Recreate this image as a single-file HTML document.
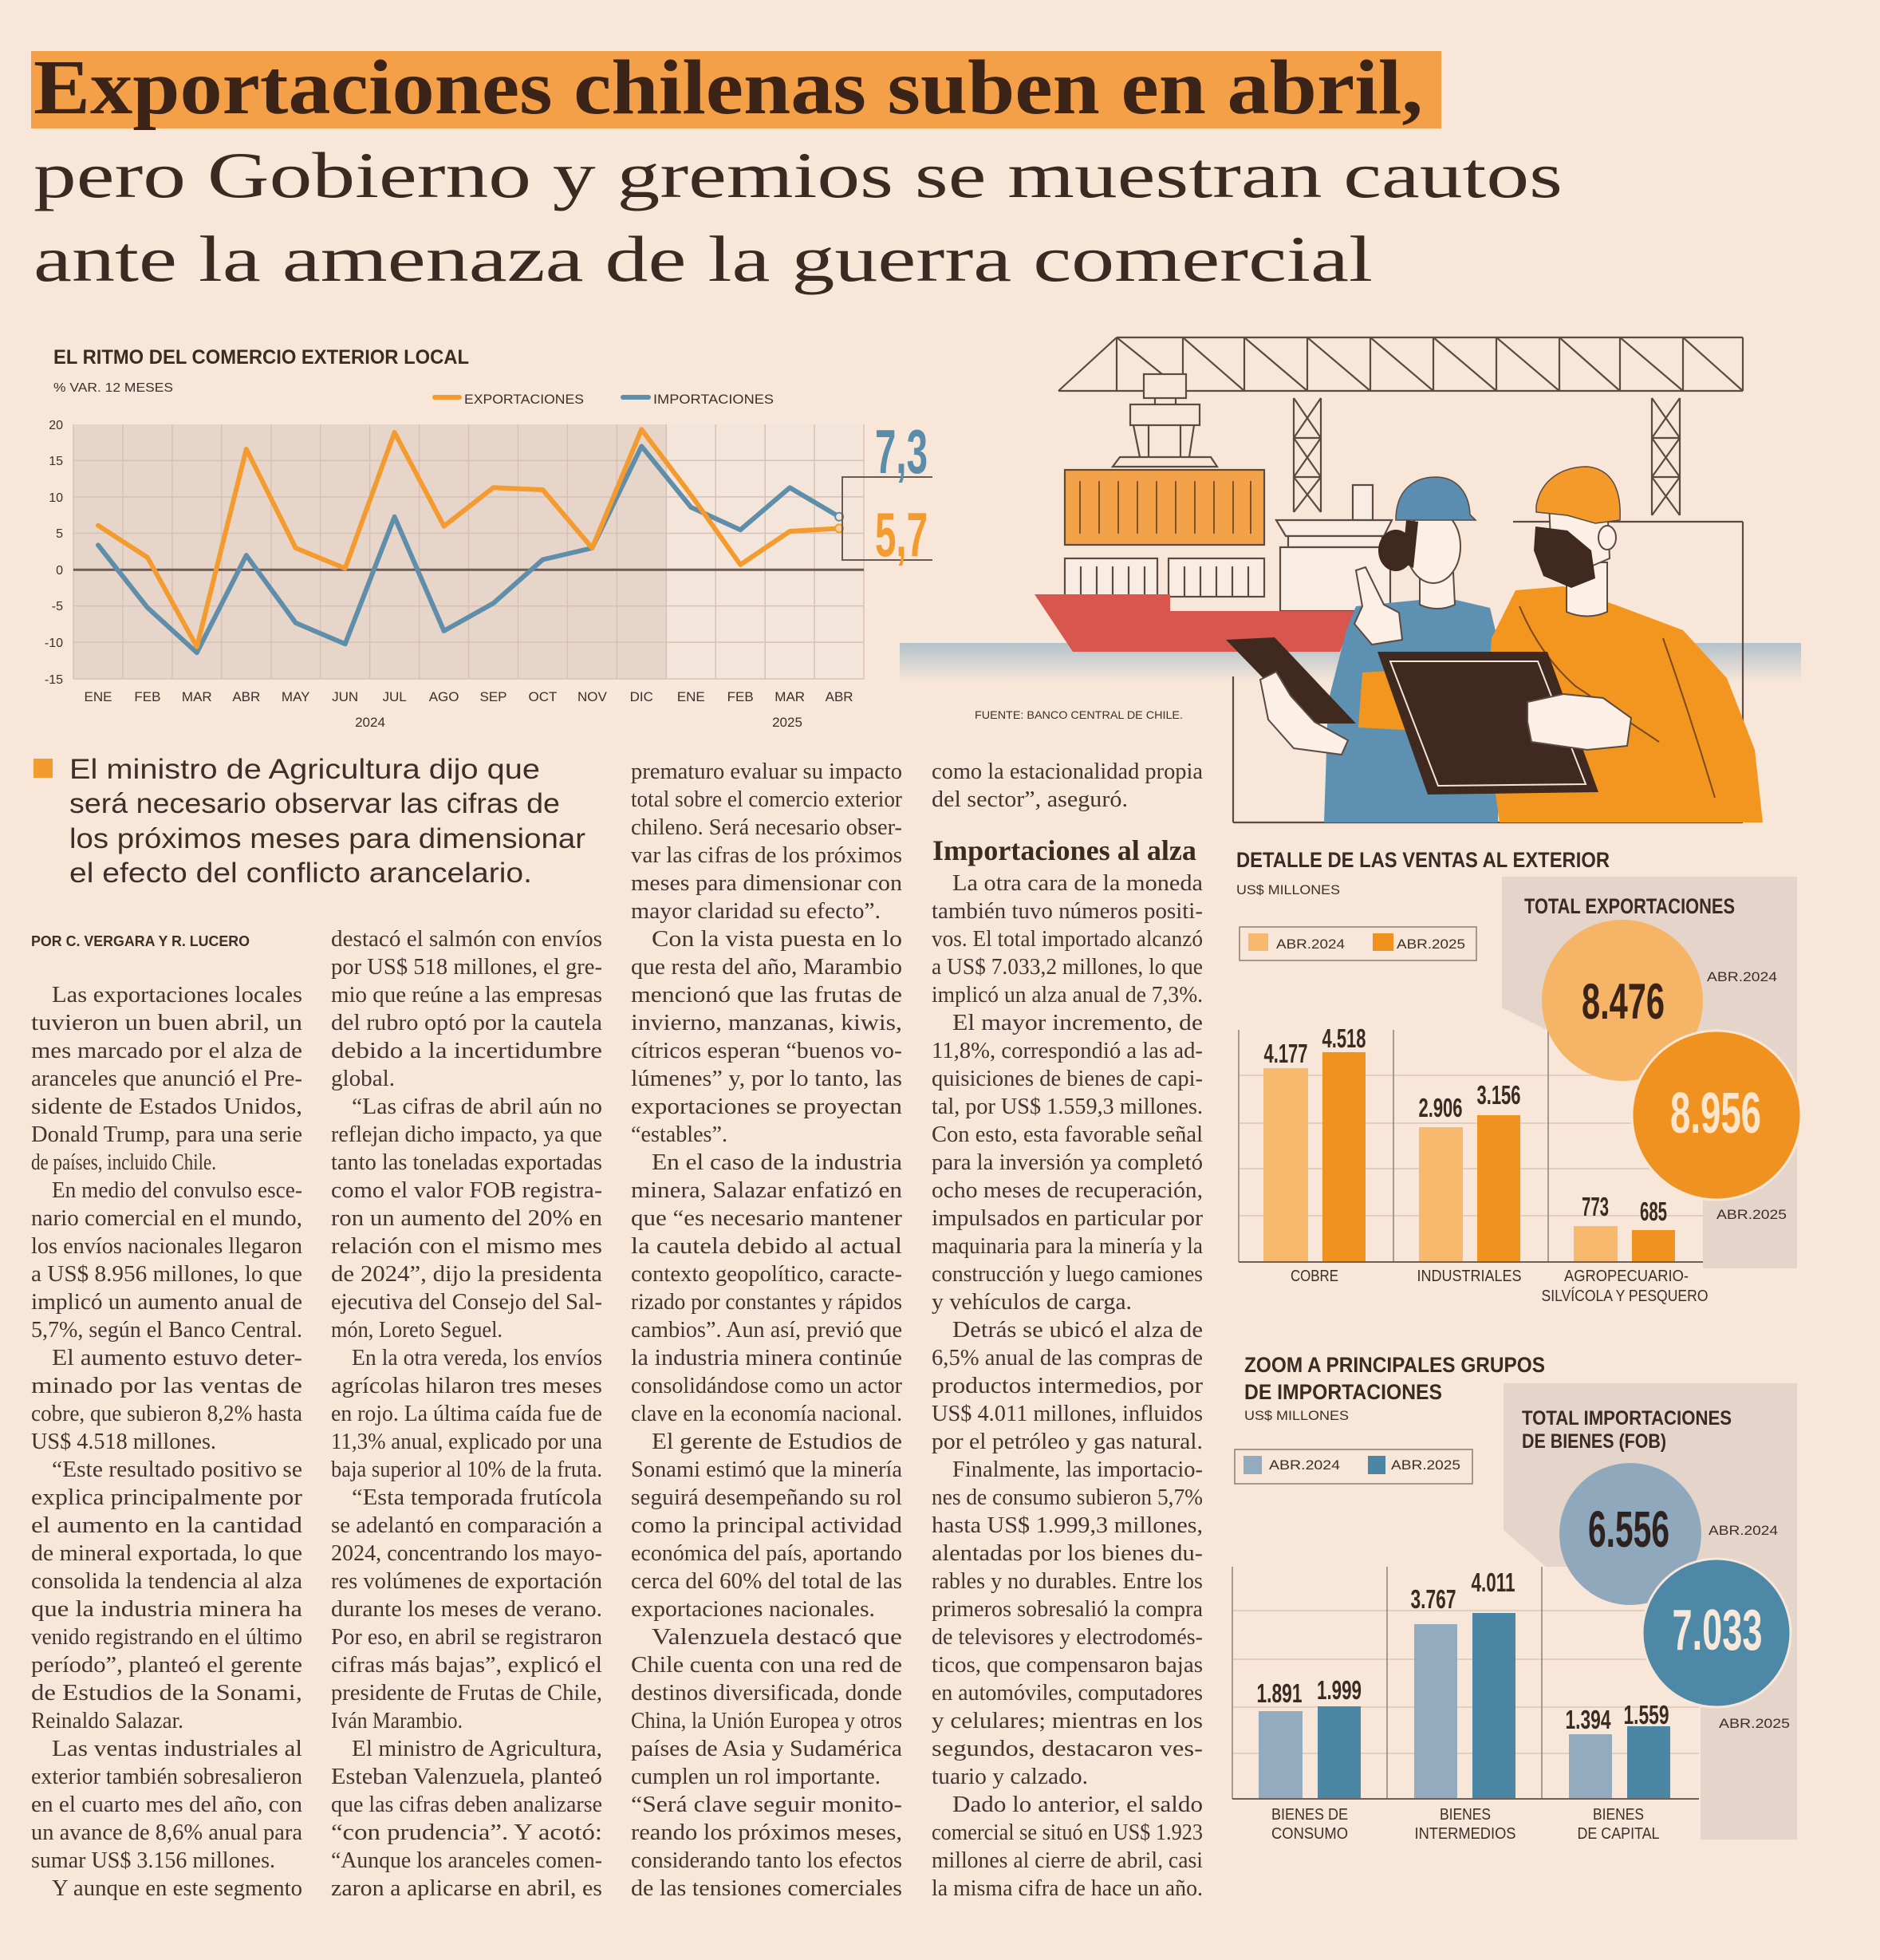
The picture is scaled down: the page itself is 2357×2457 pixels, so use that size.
<!DOCTYPE html>
<html><head><meta charset="utf-8"><title>Exportaciones chilenas</title>
<style>
html,body{margin:0;padding:0;background:#f8e6d9;}
svg{display:block}
.t{font-family:"Liberation Serif",serif;font-size:29px;fill:#42352f}
.c{font-family:"Liberation Sans Narrow","Liberation Sans",sans-serif;fill:#3d2f29}
.cb{font-family:"Liberation Sans Narrow","Liberation Sans",sans-serif;font-weight:bold;fill:#3a2a22}
.ln{stroke:#5a4a42;stroke-width:2.2;fill:none}
</style></head><body>
<svg width="2357" height="2457" viewBox="0 0 2357 2457" xmlns="http://www.w3.org/2000/svg">
<defs>
<linearGradient id="wat" x1="0" y1="0" x2="0" y2="1"><stop offset="0" stop-color="#b3c2cb"/><stop offset="1" stop-color="#f8e6d9"/></linearGradient>
</defs>
<rect x="0" y="0" width="2357" height="2457" fill="#f8e6d9"/>

<!-- TITLE -->
<rect x="39" y="64" width="1768" height="97" fill="#f4a049"/>
<text x="42" y="142" font-family="Liberation Serif,serif" font-weight="bold" font-size="98" fill="#3b2417" textLength="1742" lengthAdjust="spacingAndGlyphs">Exportaciones chilenas suben en abril,</text>
<text x="42" y="247" font-family="Liberation Serif,serif" font-size="82" fill="#3b2a22" textLength="1917" lengthAdjust="spacingAndGlyphs">pero Gobierno y gremios se muestran cautos</text>
<text x="42" y="352" font-family="Liberation Serif,serif" font-size="82" fill="#3b2a22" textLength="1679" lengthAdjust="spacingAndGlyphs">ante la amenaza de la guerra comercial</text>

<!-- LINE CHART -->
<text class="cb" x="67" y="456" font-size="25" textLength="521" lengthAdjust="spacingAndGlyphs">EL RITMO DEL COMERCIO EXTERIOR LOCAL</text>
<text class="c" x="67" y="491" font-size="16" textLength="150" lengthAdjust="spacingAndGlyphs">% VAR. 12 MESES</text>
<line x1="545" y1="498" x2="576" y2="498" stroke="#f39b2f" stroke-width="6" stroke-linecap="round"/>
<text class="c" x="582" y="506" font-size="17" textLength="150" lengthAdjust="spacingAndGlyphs">EXPORTACIONES</text>
<line x1="781" y1="498" x2="813" y2="498" stroke="#5e8ea9" stroke-width="6" stroke-linecap="round"/>
<text class="c" x="819" y="506" font-size="17" textLength="151" lengthAdjust="spacingAndGlyphs">IMPORTACIONES</text>

<rect x="92" y="532" width="743.3" height="319" fill="#e8d5c9"/>
<rect x="835.3" y="532" width="247.7" height="319" fill="#f4e5da"/>
<g stroke="#d6c2b5" stroke-width="1.5">
<line x1="92" y1="532" x2="92" y2="851"/><line x1="153.9" y1="532" x2="153.9" y2="851"/><line x1="215.9" y1="532" x2="215.9" y2="851"/><line x1="277.8" y1="532" x2="277.8" y2="851"/><line x1="339.8" y1="532" x2="339.8" y2="851"/><line x1="401.7" y1="532" x2="401.7" y2="851"/><line x1="463.6" y1="532" x2="463.6" y2="851"/><line x1="525.6" y1="532" x2="525.6" y2="851"/><line x1="587.5" y1="532" x2="587.5" y2="851"/><line x1="649.5" y1="532" x2="649.5" y2="851"/><line x1="711.4" y1="532" x2="711.4" y2="851"/><line x1="773.3" y1="532" x2="773.3" y2="851"/><line x1="835.3" y1="532" x2="835.3" y2="851"/><line x1="897.2" y1="532" x2="897.2" y2="851"/><line x1="959.2" y1="532" x2="959.2" y2="851"/><line x1="1021.1" y1="532" x2="1021.1" y2="851"/><line x1="1083" y1="532" x2="1083" y2="851"/>
<line x1="92" y1="577.3" x2="1083" y2="577.3"/><line x1="92" y1="622.9" x2="1083" y2="622.9"/><line x1="92" y1="668.5" x2="1083" y2="668.5"/><line x1="92" y1="759.6" x2="1083" y2="759.6"/><line x1="92" y1="805.1" x2="1083" y2="805.1"/><line x1="92" y1="851" x2="1083" y2="851"/>
</g>
<line x1="92" y1="714.3" x2="1083" y2="714.3" stroke="#6d5d54" stroke-width="3"/>
<g class="c" font-size="16" text-anchor="end">
<text x="79" y="538">20</text><text x="79" y="583">15</text><text x="79" y="629">10</text><text x="79" y="674">5</text><text x="79" y="720">0</text><text x="79" y="765">-5</text><text x="79" y="811">-10</text><text x="79" y="857">-15</text>
</g>
<g class="c" font-size="17" text-anchor="middle">
<text x="123" y="879">ENE</text><text x="184.9" y="879">FEB</text><text x="246.8" y="879">MAR</text><text x="308.8" y="879">ABR</text><text x="370.7" y="879">MAY</text><text x="432.7" y="879">JUN</text><text x="494.6" y="879">JUL</text><text x="556.6" y="879">AGO</text><text x="618.5" y="879">SEP</text><text x="680.5" y="879">OCT</text><text x="742.4" y="879">NOV</text><text x="804.3" y="879">DIC</text><text x="866.3" y="879">ENE</text><text x="928.2" y="879">FEB</text><text x="990.2" y="879">MAR</text><text x="1052.1" y="879">ABR</text>
<text x="464" y="911">2024</text><text x="987" y="911">2025</text>
</g>
<polyline fill="none" stroke="#5e8ea9" stroke-width="6" stroke-linejoin="round" stroke-linecap="round" points="123,683.3 184.9,761.7 246.8,818.2 308.8,696.1 370.7,780.8 432.7,807.3 494.6,647.8 556.6,790.9 618.5,756.2 680.5,701.5 742.4,687 804.3,559.4 866.3,635.9 928.2,664.2 990.2,611.3 1052.1,647.8"/>
<polyline fill="none" stroke="#f39b2f" stroke-width="6" stroke-linejoin="round" stroke-linecap="round" points="123,658.7 184.9,698.8 246.8,810.9 308.8,563 370.7,687 432.7,712.5 494.6,542 556.6,659.6 618.5,611.3 680.5,614 742.4,687 804.3,538.4 866.3,620.4 928.2,707.9 990.2,666 1052.1,662.4"/>
<circle cx="1052.1" cy="647.8" r="5" fill="#f4e5da" stroke="#5e8ea9" stroke-width="2"/>
<circle cx="1052.1" cy="662.4" r="5" fill="#fbd39a" stroke="#f39b2f" stroke-width="2"/>
<polyline points="1169,598 1056,598 1056,702 1169,702" fill="none" stroke="#6b5a52" stroke-width="2"/>
<text class="cb" x="1097" y="593" font-size="78" textLength="66" lengthAdjust="spacingAndGlyphs" style="fill:#5b8dab">7,3</text>
<text class="cb" x="1097" y="697" font-size="78" textLength="66" lengthAdjust="spacingAndGlyphs" style="fill:#f39b2f">5,7</text>

<!-- ILLUSTRATION -->
<rect x="1128" y="806" width="1130" height="50" fill="url(#wat)"/>
<g class="ln" stroke-width="2.5">
<line x1="1400" y1="423" x2="2185" y2="423"/><line x1="1327" y1="490" x2="2185" y2="490"/><line x1="1327" y1="490" x2="1400" y2="423"/>
<line x1="1400" y1="423" x2="1400" y2="490"/><line x1="1483" y1="423" x2="1483" y2="490"/><line x1="1560" y1="423" x2="1560" y2="490"/><line x1="1639" y1="423" x2="1639" y2="490"/><line x1="1718" y1="423" x2="1718" y2="490"/><line x1="1797" y1="423" x2="1797" y2="490"/><line x1="1876" y1="423" x2="1876" y2="490"/><line x1="1955" y1="423" x2="1955" y2="490"/><line x1="2031" y1="423" x2="2031" y2="490"/><line x1="2110" y1="423" x2="2110" y2="490"/><line x1="2185" y1="423" x2="2185" y2="490"/>
<line x1="1400" y1="423" x2="1483" y2="490"/><line x1="1483" y1="423" x2="1560" y2="490"/><line x1="1560" y1="423" x2="1639" y2="490"/><line x1="1639" y1="423" x2="1718" y2="490"/><line x1="1718" y1="423" x2="1797" y2="490"/><line x1="1797" y1="423" x2="1876" y2="490"/><line x1="1876" y1="423" x2="1955" y2="490"/><line x1="1955" y1="423" x2="2031" y2="490"/><line x1="2031" y1="423" x2="2110" y2="490"/><line x1="2110" y1="423" x2="2185" y2="490"/>
</g>
<g class="ln">
<rect x="1434" y="469" width="53" height="30" fill="#f8e6d9"/>
<line x1="1448" y1="499" x2="1448" y2="507"/><line x1="1474" y1="499" x2="1474" y2="507"/>
<rect x="1417" y="507" width="87" height="26" fill="#f8e6d9"/>
<line x1="1421" y1="533" x2="1429" y2="573"/><line x1="1497" y1="533" x2="1491" y2="573"/><line x1="1440" y1="533" x2="1440" y2="573"/><line x1="1480" y1="533" x2="1480" y2="573"/>
<polygon points="1404,573 1518,573 1526,585 1395,585" fill="#f8e6d9"/>
<line x1="1622" y1="499" x2="1622" y2="642"/><line x1="1656" y1="499" x2="1656" y2="642"/><line x1="1622" y1="549" x2="1656" y2="549"/><line x1="1622" y1="598" x2="1656" y2="598"/>
<line x1="1622" y1="499" x2="1656" y2="549"/><line x1="1656" y1="499" x2="1622" y2="549"/><line x1="1622" y1="549" x2="1656" y2="598"/><line x1="1656" y1="549" x2="1622" y2="598"/><line x1="1622" y1="598" x2="1656" y2="642"/><line x1="1656" y1="598" x2="1622" y2="642"/>
<line x1="2071" y1="499" x2="2071" y2="646"/><line x1="2106" y1="499" x2="2106" y2="646"/><line x1="2071" y1="549" x2="2106" y2="549"/><line x1="2071" y1="598" x2="2106" y2="598"/>
<line x1="2071" y1="499" x2="2106" y2="549"/><line x1="2106" y1="499" x2="2071" y2="549"/><line x1="2071" y1="549" x2="2106" y2="598"/><line x1="2106" y1="549" x2="2071" y2="598"/><line x1="2071" y1="598" x2="2106" y2="646"/><line x1="2106" y1="598" x2="2071" y2="646"/>
<rect x="1335" y="589" width="250" height="94" fill="#f3a24a"/>
</g>
<g stroke="#6e4a30" stroke-width="1.8">
<line x1="1354" y1="603" x2="1354" y2="669"/><line x1="1378" y1="603" x2="1378" y2="669"/><line x1="1402" y1="603" x2="1402" y2="669"/><line x1="1426" y1="603" x2="1426" y2="669"/><line x1="1450" y1="603" x2="1450" y2="669"/><line x1="1474" y1="603" x2="1474" y2="669"/><line x1="1498" y1="603" x2="1498" y2="669"/><line x1="1522" y1="603" x2="1522" y2="669"/><line x1="1546" y1="603" x2="1546" y2="669"/><line x1="1568" y1="603" x2="1568" y2="669"/>
</g>
<g class="ln">
<rect x="1335" y="700" width="116" height="48" fill="#f9ece2"/><rect x="1465" y="700" width="120" height="48" fill="#f9ece2"/>
<line x1="1355" y1="710" x2="1355" y2="748"/><line x1="1375" y1="710" x2="1375" y2="748"/><line x1="1395" y1="710" x2="1395" y2="748"/><line x1="1415" y1="710" x2="1415" y2="748"/><line x1="1435" y1="710" x2="1435" y2="748"/>
<line x1="1485" y1="710" x2="1485" y2="748"/><line x1="1505" y1="710" x2="1505" y2="748"/><line x1="1525" y1="710" x2="1525" y2="748"/><line x1="1545" y1="710" x2="1545" y2="748"/><line x1="1565" y1="710" x2="1565" y2="748"/>
<rect x="1696" y="608" width="25" height="44" fill="#f9ece2"/>
<polygon points="1600,652 1745,652 1735,672 1612,672" fill="#f9ece2"/>
<rect x="1615" y="672" width="118" height="14" fill="#f9ece2"/>
<rect x="1605" y="686" width="138" height="80" fill="#f9ece2"/>
</g>
<polygon points="1297,745 1467,745 1467,766 1700,766 1680,817 1345,817" fill="#d9564e"/>
<g class="ln">
<line x1="1897" y1="654" x2="2185" y2="654"/><line x1="2185" y1="654" x2="2185" y2="1031"/><line x1="1546" y1="1031" x2="2185" y2="1031"/><line x1="1546" y1="848" x2="1546" y2="1031"/>
</g>
<!-- woman -->
<polygon points="1700,760 1780,752 1825,752 1868,762 1882,820 1878,1031 1660,1031 1665,880 1688,790" fill="#5d90b1"/>
<path d="M1780,718 L1822,718 L1824,758 Q1802,768 1780,758 Z" fill="#fbefe6" stroke="#5a4a42" stroke-width="2"/>
<ellipse cx="1797" cy="685" rx="34" ry="46" fill="#fbefe6" stroke="#5a4a42" stroke-width="2"/>
<ellipse cx="1750" cy="690" rx="22" ry="26" fill="#40291e"/>
<path d="M1763,652 L1778,654 L1772,712 L1758,705 Z" fill="#40291e"/>
<path d="M1750,652 C1750,612 1775,598 1800,598 C1828,598 1842,620 1843,645 L1850,652 Z" fill="#5b8db0" stroke="#5a4a42" stroke-width="1.5"/>
<path d="M1700,715 L1712,711 L1735,758 L1754,768 L1758,802 L1720,808 L1698,782 L1708,760 Z" fill="#fbefe6" stroke="#5a4a42" stroke-width="2"/>
<polygon points="1537,802 1598,799 1700,907 1639,907" fill="#40291e"/>
<path d="M1580,852 L1600,842 L1618,872 L1648,905 L1690,928 L1682,946 L1622,938 L1590,902 Z" fill="#fbefe6" stroke="#5a4a42" stroke-width="2"/>
<!-- man -->
<polygon points="1900,740 1960,735 2030,760 2110,790 2165,850 2200,940 2210,1031 1880,1031 1862,900 1870,800" fill="#f3961f"/>
<polygon points="1708,843 1762,840 1762,915 1703,912" fill="#f3961f"/>
<path d="M1964,705 L2015,705 L2015,767 Q1990,778 1964,767 Z" fill="#fbefe6" stroke="#5a4a42" stroke-width="2"/>
<path d="M1942,630 L2015,630 L2018,700 L1990,712 L1945,700 Z" fill="#fbefe6" stroke="#5a4a42" stroke-width="2"/>
<ellipse cx="2015" cy="674" rx="11" ry="15" fill="#fbefe6" stroke="#5a4a42" stroke-width="2"/>
<polygon points="1925,660 1965,665 1995,690 2000,725 1970,737 1935,722 1923,690" fill="#40291e"/>
<path d="M1926,634 C1932,600 1960,585 1990,585 C2020,588 2033,612 2031,652 L2000,656 L1965,646 L1926,642 Z" fill="#f39a2a" stroke="#5a4a42" stroke-width="1.5"/>
<g stroke="#7a4a20" stroke-width="2" fill="none">
<path d="M1905,760 Q1930,820 1975,860 L2080,930"/><path d="M2085,800 Q2120,900 2150,1000"/>
</g>
<polygon points="1727,817 1940,817 2004,993 1790,996" fill="#40291e"/>
<polygon points="1743,829 1928,829 1988,983 1803,985" fill="none" stroke="#f5e6da" stroke-width="2"/>
<path d="M1915,880 L1960,870 L2010,875 L2045,900 L2040,935 L1990,940 L1920,930 L1915,905 Z" fill="#fbefe6" stroke="#5a4a42" stroke-width="2"/>
<text class="c" x="1222" y="901" font-size="14" textLength="261" lengthAdjust="spacingAndGlyphs">FUENTE: BANCO CENTRAL DE CHILE.</text>

<!-- DECK -->
<rect x="42" y="951" width="24" height="24" fill="#f39b2f"/>
<g font-family="Liberation Sans,sans-serif" font-size="35" fill="#3d2f28">
<text x="87" y="976" textLength="590" lengthAdjust="spacingAndGlyphs">El ministro de Agricultura dijo que</text>
<text x="87" y="1019" textLength="615" lengthAdjust="spacingAndGlyphs">será necesario observar las cifras de</text>
<text x="87" y="1063" textLength="647" lengthAdjust="spacingAndGlyphs">los próximos meses para dimensionar</text>
<text x="87" y="1106" textLength="580" lengthAdjust="spacingAndGlyphs">el efecto del conflicto arancelario.</text>
</g>
<text x="39" y="1186" font-family="Liberation Sans,sans-serif" font-weight="bold" font-size="18" fill="#3d2f28" textLength="274" lengthAdjust="spacingAndGlyphs">POR C. VERGARA Y R. LUCERO</text>

<!-- COLUMN 1 -->
<g class="t">
<text x="65" y="1256" textLength="314" lengthAdjust="spacingAndGlyphs">Las exportaciones locales</text>
<text x="39" y="1291" textLength="340" lengthAdjust="spacingAndGlyphs">tuvieron un buen abril, un</text>
<text x="39" y="1326" textLength="340" lengthAdjust="spacingAndGlyphs">mes marcado por el alza de</text>
<text x="39" y="1361" textLength="340" lengthAdjust="spacingAndGlyphs">aranceles que anunció el Pre-</text>
<text x="39" y="1396" textLength="340" lengthAdjust="spacingAndGlyphs">sidente de Estados Unidos,</text>
<text x="39" y="1431" textLength="340" lengthAdjust="spacingAndGlyphs">Donald Trump, para una serie</text>
<text x="39" y="1466" textLength="232" lengthAdjust="spacingAndGlyphs">de países, incluido Chile.</text>
<text x="65" y="1501" textLength="314" lengthAdjust="spacingAndGlyphs">En medio del convulso esce-</text>
<text x="39" y="1536" textLength="340" lengthAdjust="spacingAndGlyphs">nario comercial en el mundo,</text>
<text x="39" y="1571" textLength="340" lengthAdjust="spacingAndGlyphs">los envíos nacionales llegaron</text>
<text x="39" y="1606" textLength="340" lengthAdjust="spacingAndGlyphs">a US$ 8.956 millones, lo que</text>
<text x="39" y="1641" textLength="340" lengthAdjust="spacingAndGlyphs">implicó un aumento anual de</text>
<text x="39" y="1676" textLength="340" lengthAdjust="spacingAndGlyphs">5,7%, según el Banco Central.</text>
<text x="65" y="1711" textLength="314" lengthAdjust="spacingAndGlyphs">El aumento estuvo deter-</text>
<text x="39" y="1746" textLength="340" lengthAdjust="spacingAndGlyphs">minado por las ventas de</text>
<text x="39" y="1781" textLength="340" lengthAdjust="spacingAndGlyphs">cobre, que subieron 8,2% hasta</text>
<text x="39" y="1816" textLength="232" lengthAdjust="spacingAndGlyphs">US$ 4.518 millones.</text>
<text x="65" y="1851" textLength="314" lengthAdjust="spacingAndGlyphs">“Este resultado positivo se</text>
<text x="39" y="1886" textLength="340" lengthAdjust="spacingAndGlyphs">explica principalmente por</text>
<text x="39" y="1921" textLength="340" lengthAdjust="spacingAndGlyphs">el aumento en la cantidad</text>
<text x="39" y="1956" textLength="340" lengthAdjust="spacingAndGlyphs">de mineral exportada, lo que</text>
<text x="39" y="1991" textLength="340" lengthAdjust="spacingAndGlyphs">consolida la tendencia al alza</text>
<text x="39" y="2026" textLength="340" lengthAdjust="spacingAndGlyphs">que la industria minera ha</text>
<text x="39" y="2061" textLength="340" lengthAdjust="spacingAndGlyphs">venido registrando en el último</text>
<text x="39" y="2096" textLength="340" lengthAdjust="spacingAndGlyphs">período”, planteó el gerente</text>
<text x="39" y="2131" textLength="340" lengthAdjust="spacingAndGlyphs">de Estudios de la Sonami,</text>
<text x="39" y="2166" textLength="191" lengthAdjust="spacingAndGlyphs">Reinaldo Salazar.</text>
<text x="65" y="2201" textLength="314" lengthAdjust="spacingAndGlyphs">Las ventas industriales al</text>
<text x="39" y="2236" textLength="340" lengthAdjust="spacingAndGlyphs">exterior también sobresalieron</text>
<text x="39" y="2271" textLength="340" lengthAdjust="spacingAndGlyphs">en el cuarto mes del año, con</text>
<text x="39" y="2306" textLength="340" lengthAdjust="spacingAndGlyphs">un avance de 8,6% anual para</text>
<text x="39" y="2341" textLength="306" lengthAdjust="spacingAndGlyphs">sumar US$ 3.156 millones.</text>
<text x="65" y="2376" textLength="314" lengthAdjust="spacingAndGlyphs">Y aunque en este segmento</text>
</g>

<!-- COLUMN 2 -->
<g class="t">
<text x="415" y="1186" textLength="340" lengthAdjust="spacingAndGlyphs">destacó el salmón con envíos</text>
<text x="415" y="1221" textLength="340" lengthAdjust="spacingAndGlyphs">por US$ 518 millones, el gre-</text>
<text x="415" y="1256" textLength="340" lengthAdjust="spacingAndGlyphs">mio que reúne a las empresas</text>
<text x="415" y="1291" textLength="340" lengthAdjust="spacingAndGlyphs">del rubro optó por la cautela</text>
<text x="415" y="1326" textLength="340" lengthAdjust="spacingAndGlyphs">debido a la incertidumbre</text>
<text x="415" y="1361" textLength="80" lengthAdjust="spacingAndGlyphs">global.</text>
<text x="441" y="1396" textLength="314" lengthAdjust="spacingAndGlyphs">“Las cifras de abril aún no</text>
<text x="415" y="1431" textLength="340" lengthAdjust="spacingAndGlyphs">reflejan dicho impacto, ya que</text>
<text x="415" y="1466" textLength="340" lengthAdjust="spacingAndGlyphs">tanto las toneladas exportadas</text>
<text x="415" y="1501" textLength="340" lengthAdjust="spacingAndGlyphs">como el valor FOB registra-</text>
<text x="415" y="1536" textLength="340" lengthAdjust="spacingAndGlyphs">ron un aumento del 20% en</text>
<text x="415" y="1571" textLength="340" lengthAdjust="spacingAndGlyphs">relación con el mismo mes</text>
<text x="415" y="1606" textLength="340" lengthAdjust="spacingAndGlyphs">de 2024”, dijo la presidenta</text>
<text x="415" y="1641" textLength="340" lengthAdjust="spacingAndGlyphs">ejecutiva del Consejo del Sal-</text>
<text x="415" y="1676" textLength="215" lengthAdjust="spacingAndGlyphs">món, Loreto Seguel.</text>
<text x="441" y="1711" textLength="314" lengthAdjust="spacingAndGlyphs">En la otra vereda, los envíos</text>
<text x="415" y="1746" textLength="340" lengthAdjust="spacingAndGlyphs">agrícolas hilaron tres meses</text>
<text x="415" y="1781" textLength="340" lengthAdjust="spacingAndGlyphs">en rojo. La última caída fue de</text>
<text x="415" y="1816" textLength="340" lengthAdjust="spacingAndGlyphs">11,3% anual, explicado por una</text>
<text x="415" y="1851" textLength="340" lengthAdjust="spacingAndGlyphs">baja superior al 10% de la fruta.</text>
<text x="441" y="1886" textLength="314" lengthAdjust="spacingAndGlyphs">“Esta temporada frutícola</text>
<text x="415" y="1921" textLength="340" lengthAdjust="spacingAndGlyphs">se adelantó en comparación a</text>
<text x="415" y="1956" textLength="340" lengthAdjust="spacingAndGlyphs">2024, concentrando los mayo-</text>
<text x="415" y="1991" textLength="340" lengthAdjust="spacingAndGlyphs">res volúmenes de exportación</text>
<text x="415" y="2026" textLength="340" lengthAdjust="spacingAndGlyphs">durante los meses de verano.</text>
<text x="415" y="2061" textLength="340" lengthAdjust="spacingAndGlyphs">Por eso, en abril se registraron</text>
<text x="415" y="2096" textLength="340" lengthAdjust="spacingAndGlyphs">cifras más bajas”, explicó el</text>
<text x="415" y="2131" textLength="340" lengthAdjust="spacingAndGlyphs">presidente de Frutas de Chile,</text>
<text x="415" y="2166" textLength="165" lengthAdjust="spacingAndGlyphs">Iván Marambio.</text>
<text x="441" y="2201" textLength="314" lengthAdjust="spacingAndGlyphs">El ministro de Agricultura,</text>
<text x="415" y="2236" textLength="340" lengthAdjust="spacingAndGlyphs">Esteban Valenzuela, planteó</text>
<text x="415" y="2271" textLength="340" lengthAdjust="spacingAndGlyphs">que las cifras deben analizarse</text>
<text x="415" y="2306" textLength="340" lengthAdjust="spacingAndGlyphs">“con prudencia”. Y acotó:</text>
<text x="415" y="2341" textLength="340" lengthAdjust="spacingAndGlyphs">“Aunque los aranceles comen-</text>
<text x="415" y="2376" textLength="340" lengthAdjust="spacingAndGlyphs">zaron a aplicarse en abril, es</text>
</g>

<!-- COLUMN 3 -->
<g class="t">
<text x="791" y="976" textLength="340" lengthAdjust="spacingAndGlyphs">prematuro evaluar su impacto</text>
<text x="791" y="1011" textLength="340" lengthAdjust="spacingAndGlyphs">total sobre el comercio exterior</text>
<text x="791" y="1046" textLength="340" lengthAdjust="spacingAndGlyphs">chileno. Será necesario obser-</text>
<text x="791" y="1081" textLength="340" lengthAdjust="spacingAndGlyphs">var las cifras de los próximos</text>
<text x="791" y="1116" textLength="340" lengthAdjust="spacingAndGlyphs">meses para dimensionar con</text>
<text x="791" y="1151" textLength="313" lengthAdjust="spacingAndGlyphs">mayor claridad su efecto”.</text>
<text x="817" y="1186" textLength="314" lengthAdjust="spacingAndGlyphs">Con la vista puesta en lo</text>
<text x="791" y="1221" textLength="340" lengthAdjust="spacingAndGlyphs">que resta del año, Marambio</text>
<text x="791" y="1256" textLength="340" lengthAdjust="spacingAndGlyphs">mencionó que las frutas de</text>
<text x="791" y="1291" textLength="340" lengthAdjust="spacingAndGlyphs">invierno, manzanas, kiwis,</text>
<text x="791" y="1326" textLength="340" lengthAdjust="spacingAndGlyphs">cítricos esperan “buenos vo-</text>
<text x="791" y="1361" textLength="340" lengthAdjust="spacingAndGlyphs">lúmenes” y, por lo tanto, las</text>
<text x="791" y="1396" textLength="340" lengthAdjust="spacingAndGlyphs">exportaciones se proyectan</text>
<text x="791" y="1431" textLength="121" lengthAdjust="spacingAndGlyphs">“estables”.</text>
<text x="817" y="1466" textLength="314" lengthAdjust="spacingAndGlyphs">En el caso de la industria</text>
<text x="791" y="1501" textLength="340" lengthAdjust="spacingAndGlyphs">minera, Salazar enfatizó en</text>
<text x="791" y="1536" textLength="340" lengthAdjust="spacingAndGlyphs">que “es necesario mantener</text>
<text x="791" y="1571" textLength="340" lengthAdjust="spacingAndGlyphs">la cautela debido al actual</text>
<text x="791" y="1606" textLength="340" lengthAdjust="spacingAndGlyphs">contexto geopolítico, caracte-</text>
<text x="791" y="1641" textLength="340" lengthAdjust="spacingAndGlyphs">rizado por constantes y rápidos</text>
<text x="791" y="1676" textLength="340" lengthAdjust="spacingAndGlyphs">cambios”. Aun así, previó que</text>
<text x="791" y="1711" textLength="340" lengthAdjust="spacingAndGlyphs">la industria minera continúe</text>
<text x="791" y="1746" textLength="340" lengthAdjust="spacingAndGlyphs">consolidándose como un actor</text>
<text x="791" y="1781" textLength="340" lengthAdjust="spacingAndGlyphs">clave en la economía nacional.</text>
<text x="817" y="1816" textLength="314" lengthAdjust="spacingAndGlyphs">El gerente de Estudios de</text>
<text x="791" y="1851" textLength="340" lengthAdjust="spacingAndGlyphs">Sonami estimó que la minería</text>
<text x="791" y="1886" textLength="340" lengthAdjust="spacingAndGlyphs">seguirá desempeñando su rol</text>
<text x="791" y="1921" textLength="340" lengthAdjust="spacingAndGlyphs">como la principal actividad</text>
<text x="791" y="1956" textLength="340" lengthAdjust="spacingAndGlyphs">económica del país, aportando</text>
<text x="791" y="1991" textLength="340" lengthAdjust="spacingAndGlyphs">cerca del 60% del total de las</text>
<text x="791" y="2026" textLength="306" lengthAdjust="spacingAndGlyphs">exportaciones nacionales.</text>
<text x="817" y="2061" textLength="314" lengthAdjust="spacingAndGlyphs">Valenzuela destacó que</text>
<text x="791" y="2096" textLength="340" lengthAdjust="spacingAndGlyphs">Chile cuenta con una red de</text>
<text x="791" y="2131" textLength="340" lengthAdjust="spacingAndGlyphs">destinos diversificada, donde</text>
<text x="791" y="2166" textLength="340" lengthAdjust="spacingAndGlyphs">China, la Unión Europea y otros</text>
<text x="791" y="2201" textLength="340" lengthAdjust="spacingAndGlyphs">países de Asia y Sudamérica</text>
<text x="791" y="2236" textLength="313" lengthAdjust="spacingAndGlyphs">cumplen un rol importante.</text>
<text x="791" y="2271" textLength="340" lengthAdjust="spacingAndGlyphs">“Será clave seguir monito-</text>
<text x="791" y="2306" textLength="340" lengthAdjust="spacingAndGlyphs">reando los próximos meses,</text>
<text x="791" y="2341" textLength="340" lengthAdjust="spacingAndGlyphs">considerando tanto los efectos</text>
<text x="791" y="2376" textLength="340" lengthAdjust="spacingAndGlyphs">de las tensiones comerciales</text>
</g>

<!-- COLUMN 4 -->
<g class="t">
<text x="1168" y="976" textLength="340" lengthAdjust="spacingAndGlyphs">como la estacionalidad propia</text>
<text x="1168" y="1011" textLength="246" lengthAdjust="spacingAndGlyphs">del sector”, aseguró.</text>
<text x="1169" y="1078" font-weight="bold" font-size="36" textLength="331" lengthAdjust="spacingAndGlyphs" style="fill:#3a2a22">Importaciones al alza</text>
<text x="1194" y="1116" textLength="314" lengthAdjust="spacingAndGlyphs">La otra cara de la moneda</text>
<text x="1168" y="1151" textLength="340" lengthAdjust="spacingAndGlyphs">también tuvo números positi-</text>
<text x="1168" y="1186" textLength="340" lengthAdjust="spacingAndGlyphs">vos. El total importado alcanzó</text>
<text x="1168" y="1221" textLength="340" lengthAdjust="spacingAndGlyphs">a US$ 7.033,2 millones, lo que</text>
<text x="1168" y="1256" textLength="340" lengthAdjust="spacingAndGlyphs">implicó un alza anual de 7,3%.</text>
<text x="1194" y="1291" textLength="314" lengthAdjust="spacingAndGlyphs">El mayor incremento, de</text>
<text x="1168" y="1326" textLength="340" lengthAdjust="spacingAndGlyphs">11,8%, correspondió a las ad-</text>
<text x="1168" y="1361" textLength="340" lengthAdjust="spacingAndGlyphs">quisiciones de bienes de capi-</text>
<text x="1168" y="1396" textLength="340" lengthAdjust="spacingAndGlyphs">tal, por US$ 1.559,3 millones.</text>
<text x="1168" y="1431" textLength="340" lengthAdjust="spacingAndGlyphs">Con esto, esta favorable señal</text>
<text x="1168" y="1466" textLength="340" lengthAdjust="spacingAndGlyphs">para la inversión ya completó</text>
<text x="1168" y="1501" textLength="340" lengthAdjust="spacingAndGlyphs">ocho meses de recuperación,</text>
<text x="1168" y="1536" textLength="340" lengthAdjust="spacingAndGlyphs">impulsados en particular por</text>
<text x="1168" y="1571" textLength="340" lengthAdjust="spacingAndGlyphs">maquinaria para la minería y la</text>
<text x="1168" y="1606" textLength="340" lengthAdjust="spacingAndGlyphs">construcción y luego camiones</text>
<text x="1168" y="1641" textLength="251" lengthAdjust="spacingAndGlyphs">y vehículos de carga.</text>
<text x="1194" y="1676" textLength="314" lengthAdjust="spacingAndGlyphs">Detrás se ubicó el alza de</text>
<text x="1168" y="1711" textLength="340" lengthAdjust="spacingAndGlyphs">6,5% anual de las compras de</text>
<text x="1168" y="1746" textLength="340" lengthAdjust="spacingAndGlyphs">productos intermedios, por</text>
<text x="1168" y="1781" textLength="340" lengthAdjust="spacingAndGlyphs">US$ 4.011 millones, influidos</text>
<text x="1168" y="1816" textLength="340" lengthAdjust="spacingAndGlyphs">por el petróleo y gas natural.</text>
<text x="1194" y="1851" textLength="314" lengthAdjust="spacingAndGlyphs">Finalmente, las importacio-</text>
<text x="1168" y="1886" textLength="340" lengthAdjust="spacingAndGlyphs">nes de consumo subieron 5,7%</text>
<text x="1168" y="1921" textLength="340" lengthAdjust="spacingAndGlyphs">hasta US$ 1.999,3 millones,</text>
<text x="1168" y="1956" textLength="340" lengthAdjust="spacingAndGlyphs">alentadas por los bienes du-</text>
<text x="1168" y="1991" textLength="340" lengthAdjust="spacingAndGlyphs">rables y no durables. Entre los</text>
<text x="1168" y="2026" textLength="340" lengthAdjust="spacingAndGlyphs">primeros sobresalió la compra</text>
<text x="1168" y="2061" textLength="340" lengthAdjust="spacingAndGlyphs">de televisores y electrodomés-</text>
<text x="1168" y="2096" textLength="340" lengthAdjust="spacingAndGlyphs">ticos, que compensaron bajas</text>
<text x="1168" y="2131" textLength="340" lengthAdjust="spacingAndGlyphs">en automóviles, computadores</text>
<text x="1168" y="2166" textLength="340" lengthAdjust="spacingAndGlyphs">y celulares; mientras en los</text>
<text x="1168" y="2201" textLength="340" lengthAdjust="spacingAndGlyphs">segundos, destacaron ves-</text>
<text x="1168" y="2236" textLength="196" lengthAdjust="spacingAndGlyphs">tuario y calzado.</text>
<text x="1194" y="2271" textLength="314" lengthAdjust="spacingAndGlyphs">Dado lo anterior, el saldo</text>
<text x="1168" y="2306" textLength="340" lengthAdjust="spacingAndGlyphs">comercial se situó en US$ 1.923</text>
<text x="1168" y="2341" textLength="340" lengthAdjust="spacingAndGlyphs">millones al cierre de abril, casi</text>
<text x="1168" y="2376" textLength="340" lengthAdjust="spacingAndGlyphs">la misma cifra de hace un año.</text>
</g>

<!-- EXPORTS BAR CHART -->
<polygon points="1883,1099 2253,1099 2253,1590 2135,1590 2135,1293 1943,1293 1883,1263" fill="#e5d4c9"/>
<text class="cb" x="1550" y="1087" font-size="27" textLength="468" lengthAdjust="spacingAndGlyphs">DETALLE DE LAS VENTAS AL EXTERIOR</text>
<text class="c" x="1550" y="1121" font-size="17" textLength="130" lengthAdjust="spacingAndGlyphs">US$ MILLONES</text>
<text class="cb" x="1911" y="1145" font-size="27" textLength="264" lengthAdjust="spacingAndGlyphs">TOTAL EXPORTACIONES</text>
<rect x="1554" y="1162" width="297" height="42" fill="none" stroke="#8a7b72" stroke-width="1.5"/>
<rect x="1565" y="1170" width="25" height="22" fill="#f7b96e"/>
<text class="c" x="1600" y="1189" font-size="17" textLength="86" lengthAdjust="spacingAndGlyphs">ABR.2024</text>
<rect x="1721" y="1170" width="26" height="22" fill="#f0921f"/>
<text class="c" x="1751" y="1189" font-size="17" textLength="86" lengthAdjust="spacingAndGlyphs">ABR.2025</text>
<g stroke="#e2cdbf" stroke-width="2">
<line x1="1553" y1="1348" x2="2135" y2="1348"/><line x1="1553" y1="1408" x2="2135" y2="1408"/><line x1="1553" y1="1465" x2="2135" y2="1465"/><line x1="1553" y1="1524" x2="2135" y2="1524"/>
</g>
<g stroke="#8d7f77" stroke-width="1.5">
<line x1="1553" y1="1291" x2="1553" y2="1582"/><line x1="1747" y1="1291" x2="1747" y2="1582"/><line x1="1941" y1="1291" x2="1941" y2="1582"/>
</g>
<circle cx="2034" cy="1254" r="101" fill="#f6b466"/>
<circle cx="2152" cy="1398" r="106" fill="#f0921f" stroke="#f8e6d9" stroke-width="3"/>
<text class="cb" x="2035" y="1277" font-size="63" text-anchor="middle" textLength="104" lengthAdjust="spacingAndGlyphs" style="fill:#3b2417">8.476</text>
<text class="cb" x="2151" y="1420" font-size="72" text-anchor="middle" textLength="114" lengthAdjust="spacingAndGlyphs" style="fill:#fbe5cd">8.956</text>
<text class="c" x="2140" y="1230" font-size="17" textLength="88" lengthAdjust="spacingAndGlyphs">ABR.2024</text>
<text class="c" x="2152" y="1528" font-size="17" textLength="88" lengthAdjust="spacingAndGlyphs">ABR.2025</text>
<rect x="1584" y="1339" width="56" height="243" fill="#f7b96e"/>
<rect x="1658" y="1319" width="54" height="263" fill="#f0921f"/>
<rect x="1779" y="1413" width="55" height="169" fill="#f7b96e"/>
<rect x="1852" y="1398" width="54" height="184" fill="#f0921f"/>
<rect x="1973" y="1537" width="55" height="45" fill="#f7b96e"/>
<rect x="2046" y="1542" width="54" height="40" fill="#f0921f"/>
<line x1="1553" y1="1582" x2="2135" y2="1582" stroke="#6e6058" stroke-width="2"/>
<g class="cb" font-size="33" text-anchor="middle">
<text x="1612" y="1332" textLength="55" lengthAdjust="spacingAndGlyphs">4.177</text>
<text x="1685" y="1313" textLength="55" lengthAdjust="spacingAndGlyphs">4.518</text>
<text x="1806" y="1400" textLength="55" lengthAdjust="spacingAndGlyphs">2.906</text>
<text x="1879" y="1384" textLength="55" lengthAdjust="spacingAndGlyphs">3.156</text>
<text x="2000" y="1524" textLength="34" lengthAdjust="spacingAndGlyphs">773</text>
<text x="2073" y="1530" textLength="34" lengthAdjust="spacingAndGlyphs">685</text>
</g>
<g class="c" font-size="20" text-anchor="middle">
<text x="1648" y="1606" textLength="60" lengthAdjust="spacingAndGlyphs">COBRE</text>
<text x="1842" y="1606" textLength="131" lengthAdjust="spacingAndGlyphs">INDUSTRIALES</text>
<text x="2039" y="1606" textLength="156" lengthAdjust="spacingAndGlyphs">AGROPECUARIO-</text>
<text x="2037" y="1631" textLength="209" lengthAdjust="spacingAndGlyphs">SILVÍCOLA Y PESQUERO</text>
</g>

<!-- IMPORTS BAR CHART -->
<polygon points="1885,1734 2253,1734 2253,2306 2132,2306 2132,1964 1938,1964 1885,1918" fill="#e5d4c9"/>
<text class="cb" x="1560" y="1720" font-size="27" textLength="377" lengthAdjust="spacingAndGlyphs">ZOOM A PRINCIPALES GRUPOS</text>
<text class="cb" x="1560" y="1754" font-size="27" textLength="248" lengthAdjust="spacingAndGlyphs">DE IMPORTACIONES</text>
<text class="c" x="1560" y="1780" font-size="17" textLength="131" lengthAdjust="spacingAndGlyphs">US$ MILLONES</text>
<text class="cb" x="1908" y="1786" font-size="25" textLength="263" lengthAdjust="spacingAndGlyphs">TOTAL IMPORTACIONES</text>
<text class="cb" x="1908" y="1815" font-size="25" textLength="181" lengthAdjust="spacingAndGlyphs">DE BIENES (FOB)</text>
<rect x="1548" y="1817" width="298" height="43" fill="none" stroke="#8a7b72" stroke-width="1.5"/>
<rect x="1559" y="1825" width="23" height="23" fill="#93abbe"/>
<text class="c" x="1591" y="1842" font-size="17" textLength="89" lengthAdjust="spacingAndGlyphs">ABR.2024</text>
<rect x="1715" y="1825" width="22" height="23" fill="#4b86a5"/>
<text class="c" x="1744" y="1842" font-size="17" textLength="87" lengthAdjust="spacingAndGlyphs">ABR.2025</text>
<g stroke="#e2cdbf" stroke-width="2">
<line x1="1545" y1="2019" x2="2130" y2="2019"/><line x1="1545" y1="2080" x2="2130" y2="2080"/><line x1="1545" y1="2140" x2="2130" y2="2140"/><line x1="1545" y1="2198" x2="2130" y2="2198"/>
</g>
<g stroke="#8d7f77" stroke-width="1.5">
<line x1="1545" y1="1964" x2="1545" y2="2255"/><line x1="1739" y1="1964" x2="1739" y2="2255"/><line x1="1933" y1="1964" x2="1933" y2="2255"/>
</g>
<circle cx="2044" cy="1923" r="89" fill="#8fa8bc"/>
<circle cx="2152" cy="2047" r="93" fill="#4d88a7" stroke="#f8e6d9" stroke-width="3"/>
<text class="cb" x="2042" y="1939" font-size="64" text-anchor="middle" textLength="102" lengthAdjust="spacingAndGlyphs" style="fill:#2e2220">6.556</text>
<text class="cb" x="2153" y="2068" font-size="72" text-anchor="middle" textLength="113" lengthAdjust="spacingAndGlyphs" style="fill:#f8e8da">7.033</text>
<text class="c" x="2142" y="1924" font-size="17" textLength="87" lengthAdjust="spacingAndGlyphs">ABR.2024</text>
<text class="c" x="2155" y="2166" font-size="17" textLength="89" lengthAdjust="spacingAndGlyphs">ABR.2025</text>
<rect x="1578" y="2145" width="55" height="110" fill="#93abbe"/>
<rect x="1652" y="2139" width="54" height="116" fill="#4b86a5"/>
<rect x="1773" y="2036" width="54" height="219" fill="#93abbe"/>
<rect x="1846" y="2022" width="54" height="233" fill="#4b86a5"/>
<rect x="1967" y="2174" width="54" height="81" fill="#93abbe"/>
<rect x="2040" y="2164" width="54" height="91" fill="#4b86a5"/>
<line x1="1545" y1="2255" x2="2130" y2="2255" stroke="#6e6058" stroke-width="2"/>
<g class="cb" font-size="33" text-anchor="middle">
<text x="1604" y="2134" textLength="57" lengthAdjust="spacingAndGlyphs">1.891</text>
<text x="1679" y="2130" textLength="56" lengthAdjust="spacingAndGlyphs">1.999</text>
<text x="1797" y="2016" textLength="57" lengthAdjust="spacingAndGlyphs">3.767</text>
<text x="1872" y="1995" textLength="55" lengthAdjust="spacingAndGlyphs">4.011</text>
<text x="1991" y="2167" textLength="57" lengthAdjust="spacingAndGlyphs">1.394</text>
<text x="2064" y="2161" textLength="57" lengthAdjust="spacingAndGlyphs">1.559</text>
</g>
<g class="c" font-size="20" text-anchor="middle">
<text x="1642" y="2281" textLength="96" lengthAdjust="spacingAndGlyphs">BIENES DE</text>
<text x="1642" y="2305" textLength="96" lengthAdjust="spacingAndGlyphs">CONSUMO</text>
<text x="1837" y="2281" textLength="64" lengthAdjust="spacingAndGlyphs">BIENES</text>
<text x="1837" y="2305" textLength="127" lengthAdjust="spacingAndGlyphs">INTERMEDIOS</text>
<text x="2029" y="2281" textLength="64" lengthAdjust="spacingAndGlyphs">BIENES</text>
<text x="2029" y="2305" textLength="103" lengthAdjust="spacingAndGlyphs">DE CAPITAL</text>
</g>
</svg>
</body></html>
